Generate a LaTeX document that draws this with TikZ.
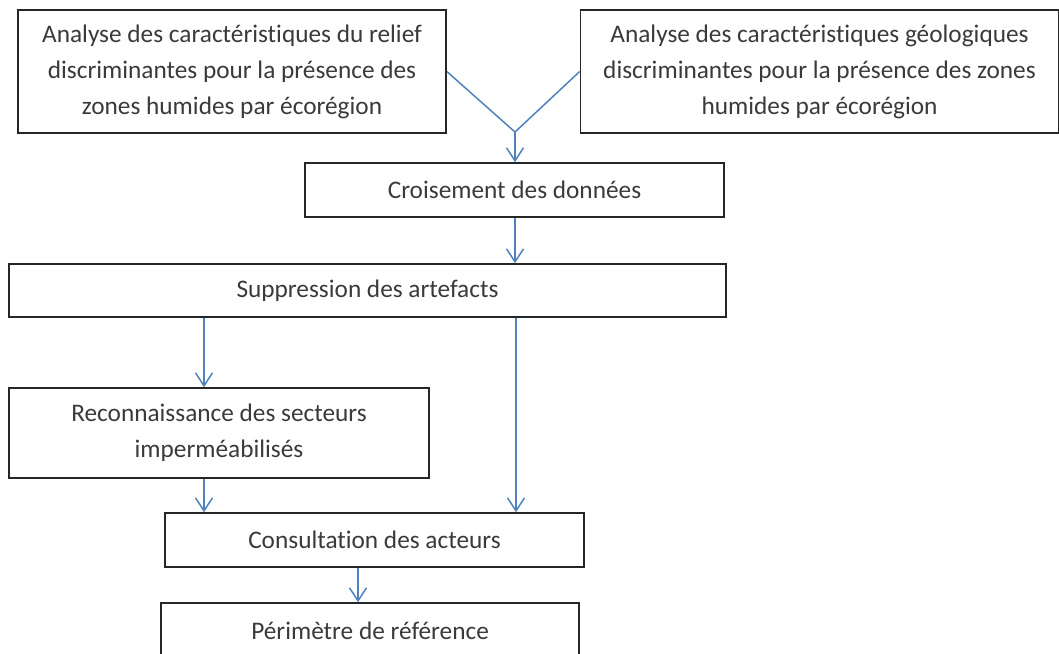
\documentclass[tikz,border=0pt]{standalone}
\usepackage{fontspec}
\setmainfont{Carlito}[Ligatures=CommonOff]
\usetikzlibrary{arrows.meta}
\definecolor{linkblue}{HTML}{4F81BD}
\definecolor{txtgray}{HTML}{3A3A3A}
\definecolor{boxline}{HTML}{262626}
\begin{document}
\begin{tikzpicture}[x=1pt,y=-1pt,
  box/.style={draw=boxline,line width=1.6pt,rectangle,inner sep=0pt,align=center,
    text=txtgray,font={\fontsize{25.3}{36}\selectfont}},
  link/.style={draw=linkblue,line width=1.5pt},
  arr/.style={link,-{Straight Barb[length=13pt,width=17pt,line width=1.5pt]}}]
\useasboundingbox (0,0) rectangle (1059,653);
\clip (0,0) rectangle (1059,653);
\node[box,minimum width=428pt,minimum height=123pt] (a) at (232,71.5)
  {Analyse des caractéristiques du relief\\discriminantes pour la présence des\\zones humides par écorégion};
\node[box,minimum width=478pt,minimum height=123pt] (b) at (819.5,71.5)
  {Analyse des caractéristiques géologiques\\discriminantes pour la présence des zones\\humides par écorégion};
\node[box,minimum width=419pt,minimum height=54pt] (c) at (514.5,190)
  {Croisement des données};
\node[box,minimum width=717pt,minimum height=53pt] (d) at (367.5,290.5)
  {Suppression des artefacts};
\node[box,minimum width=420pt,minimum height=90pt] (e) at (219,433)
  {Reconnaissance des secteurs\\imperméabilisés};
\node[box,minimum width=419pt,minimum height=54pt] (f) at (374.5,540)
  {Consultation des acteurs};
\node[box,minimum width=418pt,minimum height=56pt] (g) at (370,631)
  {Périmètre de référence};
\coordinate (j) at (515,132);
\coordinate (x1) at (204,0);
\coordinate (x2) at (516,0);
\coordinate (x3) at (358,0);
\draw[link] (a.east) -- (j);
\draw[link] (b.west) -- (j);
\draw[arr] (j) -- (c.north -| j);
\draw[arr] (c.south -| j) -- (d.north -| j);
\draw[arr] (d.south -| x1) -- (e.north -| x1);
\draw[arr] (d.south -| x2) -- (f.north -| x2);
\draw[arr] (e.south -| x1) -- (f.north -| x1);
\draw[arr] (f.south -| x3) -- (g.north -| x3);
\end{tikzpicture}
\end{document}
